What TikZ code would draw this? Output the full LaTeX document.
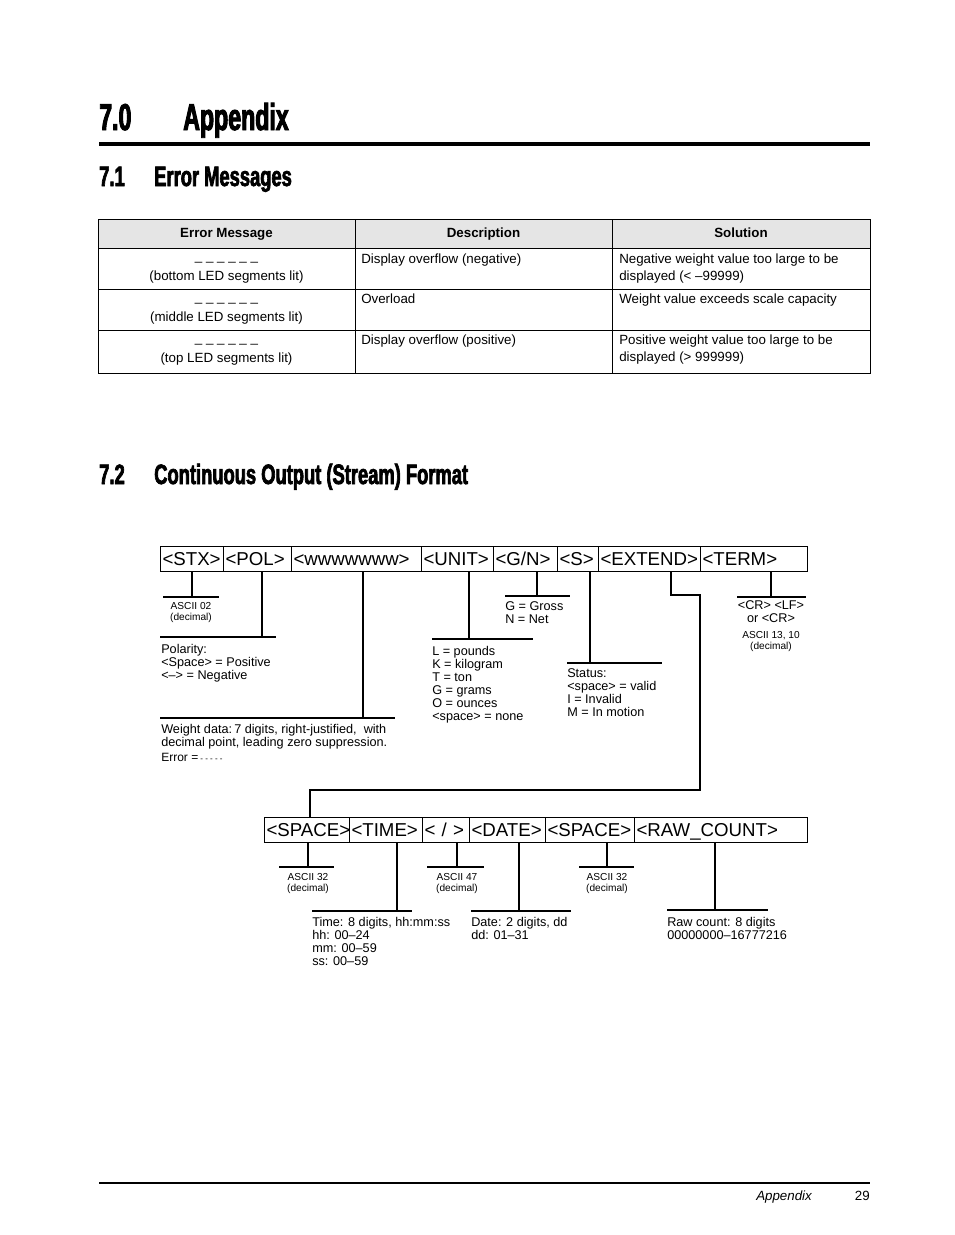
\documentclass[tikz,border=0pt]{standalone}
\usepackage{fontspec}
\setmainfont{Liberation Sans}
\newfontfamily\headfontA[FakeStretch=0.62,FakeBold=2.6]{Liberation Sans Bold}
\newfontfamily\headfontB[FakeStretch=0.655,FakeBold=2.4]{Liberation Sans Bold}
\definecolor{hdrgray}{RGB}{229,229,229}
\newcommand\cellbox[6]{\pgfmathsetmacro\cw{(#3-#2)*0.75-3}\pgfmathsetmacro\ch{(#5-#4)*0.75}%
  \node[cellst, minimum height=\ch pt, text width=\cw pt, anchor=north west] (#1) at (#2,#4) {\rule[-2.5pt]{0pt}{15pt}#6};}
\newcommand\drop[5]{\coordinate (#1v) at (#2,#3); \coordinate (#1l) at (#4,#3); \coordinate (#1r) at (#5,#3);
  \draw[conn] (#1.south -| #1v) -- (#1v); \draw[conn] (#1l) -- (#1r);}
\begin{document}
\begin{tikzpicture}[x=0.75pt,y=-0.75pt,
  every node/.style={inner sep=0pt},
  cellst/.style={draw, line width=0.75pt, inner xsep=1.5pt, inner ysep=0pt, align=left, font=\fontsize{14}{14}\selectfont},
  conn/.style={line width=0.8pt},
  tab/.style={line width=0.6pt},
  lab/.style={font=\fontsize{9.5}{9.75}\selectfont, align=left, anchor=north west},
  small/.style={font=\fontsize{7.6}{8.25}\selectfont, align=center, anchor=north},
  tt/.style={font=\fontsize{10}{12}\selectfont, anchor=base west},
  tc/.style={font=\fontsize{10}{12}\selectfont, anchor=base},
  th/.style={font=\fontsize{10}{12}\selectfont\bfseries, anchor=base},
  h1/.style={font=\headfontA\fontsize{28}{28}\selectfont, anchor=base west},
  h2/.style={font=\headfontB\fontsize{21}{21}\selectfont, anchor=base west}]
\useasboundingbox (0,0) rectangle (954,1235);

% headings
\node[h1] (h0n) at (99,130) {7.0};
\node[h1] (h0t) at (183,130) {Appendix};
\draw[line width=2.4pt] (99,144) -- (870,144);
\node[h2] (h1n) at (99,186) {7.1};
\node[h2] (h1t) at (154,186) {Error Messages};
\node[h2] (h2n) at (99,484) {7.2};
\node[h2] (h2t) at (154,484) {Continuous Output (Stream) Format};

% table
\fill[hdrgray] (98,219) rectangle (870,248);
\draw[tab] (98,219) rectangle (870,373);
\draw[tab] (98,248) -- (870,248);
\draw[tab] (98,289) -- (870,289);
\draw[tab] (98,330) -- (870,330);
\draw[tab] (355,219) -- (355,373);
\draw[tab] (612,219) -- (612,373);
\node[th] (thA) at (226.5,237) {Error Message};
\node[th] (thB) at (483.5,237) {Description};
\node[th] (thC) at (741,237) {Solution};
\node[tc] (r1a) at (226.5,260) {\_ \_ \_ \_ \_ \_};
\node[tc] (r1b) at (226.5,280) {(bottom LED segments lit)};
\node[tt] (r1c) at (361,263) {Display overflow (negative)};
\node[tt] (r1d) at (619,263) {Negative weight value too large to be};
\node[tt] (r1e) at (619,280) {displayed (< –99999)};
\node[tc] (r2a) at (226.5,301) {\_ \_ \_ \_ \_ \_};
\node[tc] (r2b) at (226.5,321) {(middle LED segments lit)};
\node[tt] (r2c) at (361,303) {Overload};
\node[tt] (r2d) at (619,303) {Weight value exceeds scale capacity};
\node[tc] (r3a) at (226.5,342) {\_ \_ \_ \_ \_ \_};
\node[tc] (r3b) at (226.5,362) {(top LED segments lit)};
\node[tt] (r3c) at (361,344) {Display overflow (positive)};
\node[tt] (r3d) at (619,344) {Positive weight value too large to be};
\node[tt] (r3e) at (619,361) {displayed (> 999999)};

% top row
\cellbox{stx}{160}{223}{546}{571}{<STX>}
\cellbox{pol}{223}{291}{546}{571}{<POL>}
\cellbox{www}{291}{421}{546}{571}{<wwwwwww>}
\cellbox{unit}{421}{493}{546}{571}{<UNIT>}
\cellbox{gn}{493}{557}{546}{571}{<G/N>}
\cellbox{s}{557}{598}{546}{571}{<S>}
\cellbox{ext}{598}{700}{546}{571}{<EXTEND>}
\cellbox{term}{700}{807}{546}{571}{<TERM>}

\drop{stx}{192}{597}{163}{219}
\drop{pol}{262}{637}{160}{276}
\drop{www}{363}{718}{160}{395}
\drop{unit}{469}{639}{432}{533}
\drop{gn}{537}{596}{505}{570}
\drop{s}{590}{663}{567}{662}
\drop{term}{771}{597}{737}{806}

\node[small] (stxL) at (191,602) {ASCII 02\\(decimal)};
\node[lab] (polL) at (161,644) {Polarity:\\<Space> = Positive\\<–> = Negative};
\node[lab] (wwwL) at (161,724) {Weight data:\,7 digits, right-justified,\ \ with\\decimal point, leading zero suppression.\\[1.5pt]{\fontsize{9}{9}\selectfont Error =}\,{\fontsize{6}{6}\selectfont - - - - -}};
\node[lab] (unitL) at (432,646) {L = pounds\\K = kilogram\\T = ton\\G = grams\\O = ounces\\<space> = none};
\node[lab] (gnL) at (505,601) {G = Gross\\N = Net};
\node[lab] (sL) at (567,668) {Status:\\<space> = valid\\I = Invalid\\M = In motion};
\node[lab, align=center, anchor=north] (termL) at (771,600) {<CR> <LF>\\or <CR>};
\node[small] (termS) at (771,631) {ASCII 13, 10\\(decimal)};

% bottom row
\cellbox{spa}{264}{349}{817}{842}{<SPACE>}
\cellbox{time}{349}{422}{817}{842}{<TIME>}
\cellbox{sl}{422}{469}{817}{842}{< / >}
\cellbox{date}{469}{545}{817}{842}{<DATE>}
\cellbox{spb}{545}{634}{817}{842}{<SPACE>}
\cellbox{raw}{634}{807}{817}{842}{<RAW\_COUNT>}

% extend link
\coordinate (e1) at (671,595);
\coordinate (e2) at (700,595);
\coordinate (e3) at (700,790);
\coordinate (e4) at (310,790);
\draw[conn] (ext.south -| e1) -- (e1) -- (e2) -- (e3) -- (e4) -- (e4 |- spa.north);

\drop{spa}{308}{867}{279}{334}
\drop{time}{397}{911}{312}{412}
\drop{sl}{457}{867}{427}{484}
\drop{date}{519}{911}{471}{571}
\drop{spb}{607}{867}{579}{634}
\drop{raw}{715}{910}{667}{768}

\node[small] (spaL) at (308,873.5) {ASCII 32\\(decimal)};
\node[small] (slL) at (457,873.5) {ASCII 47\\(decimal)};
\node[small] (spbL) at (607,873.5) {ASCII 32\\(decimal)};
\node[lab] (timeL) at (312,917) {Time: 8 digits, hh:mm:ss\\hh: 00–24\\mm: 00–59\\ss: 00–59};
\node[lab] (dateL) at (471,917) {Date: 2 digits, dd\\dd: 01–31};
\node[lab] (rawL) at (667,917) {Raw count: 8 digits\\00000000–16777216};

% footer
\draw[line width=0.8pt] (99,1183) -- (870,1183);
\node[font=\fontsize{10}{12}\selectfont\itshape, anchor=base west] (ftA) at (756,1200) {Appendix};
\node[font=\fontsize{10}{12}\selectfont, anchor=base east] (ftB) at (870,1200) {29};
\end{tikzpicture}
\end{document}
